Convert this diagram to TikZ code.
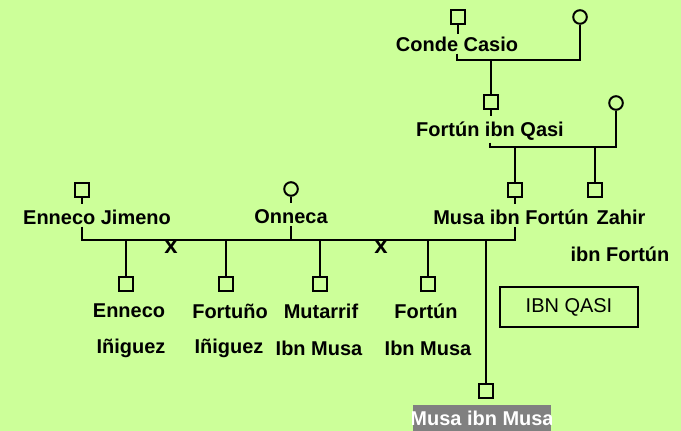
\documentclass[tikz,border=0pt]{standalone}
\usepackage{fontspec}
\setmainfont{Liberation Sans}
\definecolor{ibngreen}{RGB}{204,255,153}
\definecolor{ibngray}{RGB}{128,128,128}

\begin{document}
\begin{tikzpicture}[x=0.025cm,y=-0.025cm,line width=1.4pt,
  male/.style={draw,rectangle,minimum size=0.33cm,inner sep=0pt},
  female/.style={draw,circle,minimum size=0.34cm,inner sep=0pt},
  pname/.style={inner sep=1pt,font=\fontsize{14.2}{17}\selectfont\bfseries},
  divorce/.style={inner sep=0pt,font=\fontsize{17}{19}\selectfont\bfseries}]
  \fill[ibngreen] (0,0) rectangle (681,431);
  \useasboundingbox (0,0) rectangle (681,431);
  % Conde Casio and wife
  \node[male] (cc) at (458,17) {};
  \node[female] (ccw) at (580,17) {};
  \node[pname] (cc-l) at (457,44) {Conde Casio};
  \draw (cc.south) -- ++(0,9);
  \coordinate (u1) at (491,60);
  \draw (cc-l.south) |- (u1) -| (ccw.south);
  % Fortun ibn Qasi and wife
  \node[male] (fq) at (491,102) {};
  \node[female] (fqw) at (616,103) {};
  \node[pname] (fq-l) at (490,131) {Fortún ibn Qasi};
  \draw (u1) -- (fq.north);
  \draw (fq.south) -- ++(0,6);
  \coordinate (u2) at (515,147);
  \draw (fq-l.south) |- (u2) -| (fqw.south);
  % sons of Fortun
  \node[male] (mf) at (515,190) {};
  \node[male] (zh) at (595,190) {};
  \node[pname] (mf-l) at (511,217) {Musa ibn Fortún};
  \node[pname] (zh-l) at (621,217) {Zahir};
  \node[pname] (zh-l2) at (620,254) {ibn Fortún};
  \draw (u2) -- (mf.north);
  \draw (zh.north) |- (u2);
  \draw (mf.south) -- ++(0,6);
  % Enneco Jimeno and Onneca
  \node[male] (ej) at (82,190) {};
  \node[female] (on) at (291,189) {};
  \node[pname] (ej-l) at (97,217) {Enneco Jimeno};
  \node[pname] (on-l) at (291,217) {Onneca};
  \draw (ej.south) -- ++(0,6);
  \draw (on.south) -- ++(0,6);
  \coordinate (u3) at (515,240);
  \draw (ej.south |- ej-l.south) |- (u3) -- (mf.south |- mf-l.south);
  \draw (on-l.south) -- (on-l.south |- u3);
  \node[divorce] (x1) at (171,247) {x};
  \node[divorce] (x2) at (381,247) {x};
  % children
  \node[male] (c1) at (126,284) {};
  \node[male] (c2) at (226,284) {};
  \node[male] (c3) at (320,284) {};
  \node[male] (c4) at (428,284) {};
  \foreach \c in {c1,c2,c3,c4}
    \draw (\c.north) -- (\c.north |- u3);
  \node[pname] (c1-l) at (129,311) {Enneco};
  \node[pname] (c1-l2) at (131,348) {Iñiguez};
  \node[pname] (c2-l) at (230,311) {Fortuño};
  \node[pname] (c2-l2) at (229,348) {Iñiguez};
  \node[pname] (c3-l) at (321,311) {Mutarrif};
  \node[pname] (c3-l2) at (319,348) {Ibn Musa};
  \node[pname] (c4-l) at (426,311) {Fortún};
  \node[pname] (c4-l2) at (428,348) {Ibn Musa};
  % Musa ibn Musa
  \node[male] (mm) at (486,391) {};
  \draw (mm.north) -- (mm.north |- u3);
  \node[fill=ibngray,inner sep=0pt,minimum width=3.45cm,minimum height=0.875cm,
    path picture={\node[pname,text=white] at ([yshift=3.2pt]path picture bounding box.center) {Musa ibn Musa};}]
    (mm-l) at (482,422.5) {};
  % title box
  \node[draw,line width=1pt,minimum width=3.45cm,minimum height=1cm,
    font=\fontsize{14.2}{17}\selectfont] (title) at (569,307) {IBN QASI};
\end{tikzpicture}
\end{document}
